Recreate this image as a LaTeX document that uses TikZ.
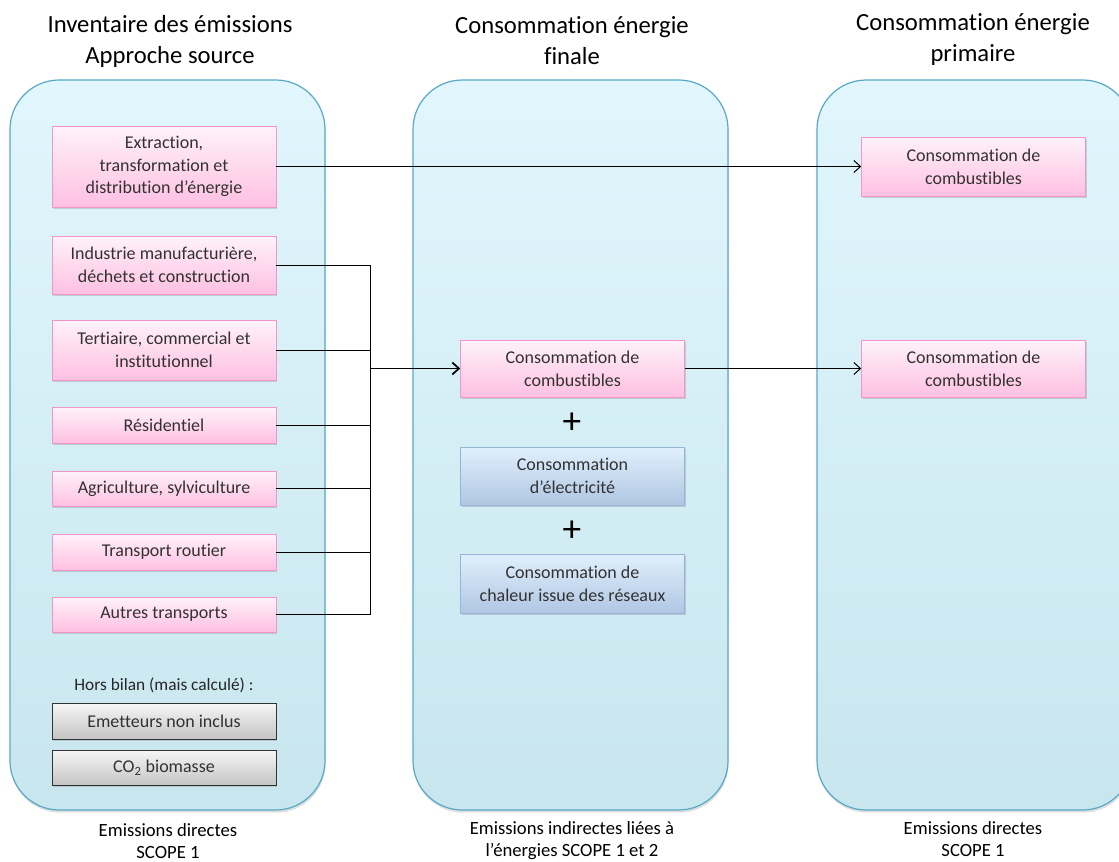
\documentclass[tikz,border=0pt]{standalone}
\usepackage{fontspec}
\setmainfont{Carlito}[Ligatures={NoCommon,NoRare,NoContextual}, RawFeature={-liga;-clig;-dlig;-calt}]
\usepackage{tikz}
\usetikzlibrary{positioning}
\usetikzlibrary{shadows, arrows.meta}

\definecolor{paneltop}{RGB}{225,246,253}
\definecolor{panelbot}{RGB}{200,230,238}
\definecolor{panelline}{RGB}{88,168,198}
\definecolor{pinktop}{RGB}{255,242,250}
\definecolor{pinkbot}{RGB}{255,192,226}
\definecolor{pinkline}{RGB}{242,150,200}
\definecolor{bluetop}{RGB}{224,240,253}
\definecolor{bluebot}{RGB}{176,198,226}
\definecolor{blueline}{RGB}{150,180,215}
\definecolor{graytop}{RGB}{246,246,246}
\definecolor{graybot}{RGB}{196,196,196}
\definecolor{boxtext}{RGB}{50,50,50}

\tikzset{
  panel/.style={draw=panelline, line width=0.9pt, rounded corners=37pt,
    top color=paneltop, bottom color=panelbot,
    drop shadow={opacity=0.25, shadow xshift=0.5pt, shadow yshift=-2pt}},
  boxbase/.style={minimum width=168pt, align=center, text=boxtext, inner sep=1pt,
    font=\fontsize{13.5}{17}\selectfont,
    drop shadow={opacity=0.3, shadow xshift=1pt, shadow yshift=-1.5pt}},
  srcbox/.style={boxbase, draw=pinkline, top color=pinktop, bottom color=pinkbot},
  elecbox/.style={boxbase, draw=blueline, top color=bluetop, bottom color=bluebot},
  outbox/.style={boxbase, draw=black!80, top color=graytop, bottom color=graybot},
  title/.style={align=center, font=\fontsize{18.5}{23.25}\selectfont},
  foot/.style={align=center, font=\fontsize{14}{16.5}\selectfont},
  conn/.style={draw=black, line width=0.75pt},
  tip/.style={-{Straight Barb[length=5pt, width=9pt]}}
}

\begin{document}
\begin{tikzpicture}[x=0.75pt,y=0.75pt,yscale=-1,xscale=1]
  \clip (0,0) rectangle (1119,861);

  % panels
  \draw [panel] (10,80) rectangle (325,810);
  \draw [panel] (413,80) rectangle (728,810);
  \draw [panel] (817,80) rectangle (1132,810);

  % titles
  \node [title] (tsrc) at (170,41) {Inventaire des émissions\\Approche source};
  \node [title] (tfin) at (572,41) {Consommation énergie\\finale};
  \node [title] (tpri) at (973,39) {Consommation énergie\\primaire};

  % source sectors
  \node [srcbox, minimum height=60.75pt] (ext) at (164,166.5) {Extraction,\\transformation et\\distribution d’énergie};
  \node [srcbox, minimum height=43.5pt] (ind) at (164,265) {Industrie manufacturière,\\déchets et construction};
  \node [srcbox, minimum height=45pt] (ter) at (164,350) {Tertiaire, commercial et\\institutionnel};
  \node [srcbox, minimum height=27pt] (res) at (164,425) {Résidentiel};
  \node [srcbox, minimum height=26.25pt] (agr) at (164,488.5) {Agriculture, sylviculture};
  \node [srcbox, minimum height=27pt] (tro) at (164,552) {Transport routier};
  \node [srcbox, minimum height=26.25pt] (atr) at (164,614.5) {Autres transports};

  % hors bilan
  \node [font=\fontsize{13}{16}\selectfont, text=black!85] (hors) at (164,685) {Hors bilan (mais calculé) :};
  \node [outbox, minimum height=27pt] (emn) at (164,721) {Emetteurs non inclus};
  \node [outbox, minimum height=26.25pt] (bio) at (164,767.5) {CO\textsubscript{2} biomasse};

  % energie finale
  \node [srcbox, minimum height=42.75pt] (fcomb) at (572.5,368.5) {Consommation de\\combustibles};
  \node [font=\fontsize{28}{28}\selectfont] (plusa) at (572,423) {+};
  \node [elecbox, minimum height=43.5pt] (felec) at (572.5,476) {Consommation\\d’électricité};
  \node [font=\fontsize{28}{28}\selectfont] (plusb) at (572,531) {+};
  \node [elecbox, minimum height=44.25pt] (fchal) at (572.5,583.5) {Consommation de\\chaleur issue des réseaux};

  % energie primaire
  \node [srcbox, minimum height=44.25pt] (pcomba) at (973.5,166.5) {Consommation de\\combustibles};
  \node [srcbox, minimum height=42.75pt] (pcombb) at (973.5,368.5) {Consommation de\\combustibles};

  % bottom captions
  \node [foot] (fsrc) at (168,841) {Emissions directes\\SCOPE 1};
  \node [foot] (ffin) at (572,841) {Emissions indirectes liées à\\l’énergies SCOPE 1 et 2};
  \node [foot] (fpri) at (973,839) {Emissions directes\\SCOPE 1};

  % connectors
  \coordinate (join) at (370,368.5);
  \foreach \s in {ind,ter,res,agr,tro,atr}
    \draw [conn] (\s.east) -| (join);
  \draw [conn, tip, line width=1.3pt] (join) -- (fcomb.west);
  \draw [conn, tip] (ext.east) -- (pcomba.west);
  \draw [conn, tip] (fcomb.east) -- (pcombb.west);

\end{tikzpicture}
\end{document}
